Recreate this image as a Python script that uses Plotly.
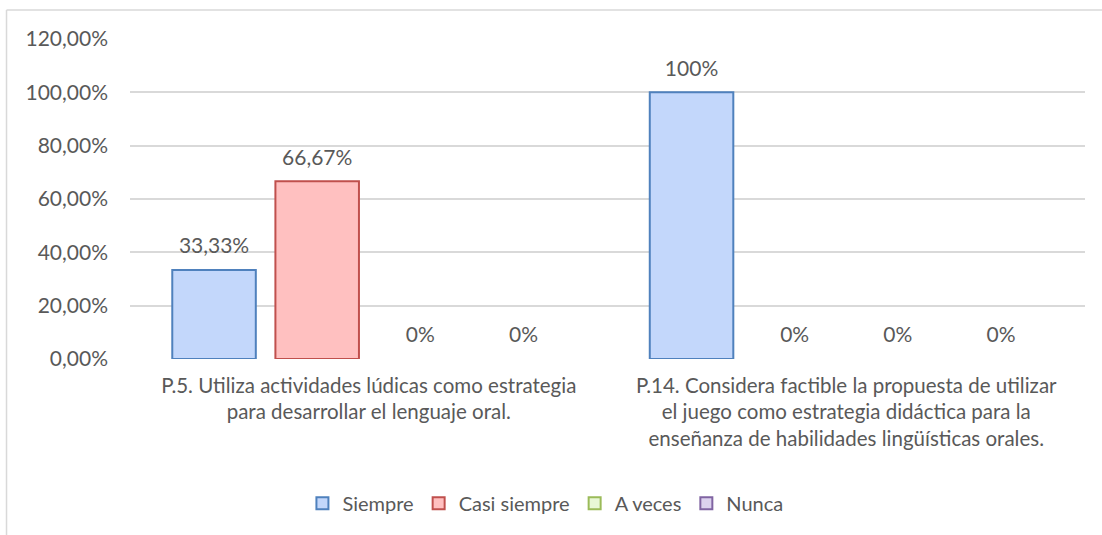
import plotly.graph_objects as go

categories = [
    "P.5. Utiliza actividades lúdicas como estrategia<br>para desarrollar el lenguaje oral.",
    "P.14. Considera factible la propuesta de utilizar<br>el juego como estrategia didáctica para la<br>enseñanza de habilidades lingüísticas orales.",
]
series_names = ["Siempre", "Casi siempre", "A veces", "Nunca"]
siempre = [0.3333, 1.0]
casi_siempre = [0.6667, 0.0]
a_veces = [0.0, 0.0]
nunca = [0.0, 0.0]
y_ticks = [0, 0.2, 0.4, 0.6, 0.8, 1.0, 1.2]

series_values = [siempre, casi_siempre, a_veces, nunca]
fills = ["#C3D7FB", "#FFC0C0", "#E8F7D6", "#DCD2EE"]
lines = ["#4F81BD", "#C0504D", "#9BBB59", "#8064A2"]

FONT = "Lato"
GREY = "#595959"
FS = 21


def label(v):
    s = f"{v * 100:.2f}".rstrip("0").rstrip(".")
    return s.replace(".", ",") + "%"


fig = go.Figure()
for i, (name, vals, fc, lc) in enumerate(zip(series_names, series_values, fills, lines)):
    # visible bars (zero-height bars drawn without outline)
    fig.add_trace(go.Bar(
        name=name,
        x=categories,
        y=vals,
        offsetgroup=str(i),
        legendgroup=name,
        showlegend=False,
        marker=dict(color=fc, line=dict(color=lc, width=[2 if v > 0 else 0 for v in vals])),
        text=[f'<span style="font-size:{FS}px">{label(v)}</span><br> ' for v in vals],
        textposition="outside",
        constraintext="none",
        cliponaxis=False,
        textfont=dict(family=FONT, size=9, color=GREY),
        hoverinfo="skip",
    ))
    # legend entry with outlined swatch
    fig.add_trace(go.Bar(
        name=name,
        x=[categories[0]],
        y=[None],
        offsetgroup=str(i),
        legendgroup=name,
        showlegend=True,
        legendrank=i + 1,
        marker=dict(color=fc, line=dict(color=lc, width=2)),
        hoverinfo="skip",
    ))

fig.update_layout(
    width=1102,
    height=535,
    barmode="group",
    bargap=0.136,
    bargroupgap=0.19,
    separators=",.",
    plot_bgcolor="white",
    paper_bgcolor="white",
    margin=dict(l=130, r=17, t=39, b=176),
    font=dict(family=FONT, size=FS, color=GREY),
    showlegend=True,
    legend=dict(
        orientation="h",
        x=0.435,
        xanchor="center",
        y=-0.39,
        yanchor="top",
        font=dict(family=FONT, size=20, color=GREY),
        traceorder="normal",
    ),
    xaxis=dict(
        showgrid=False,
        showline=False,
        zeroline=False,
        automargin=False,
        tickfont=dict(family=FONT, size=20.5, color=GREY),
        ticklabelstandoff=12,
    ),
    yaxis=dict(
        range=[0, 1.2],
        tickvals=y_ticks,
        tickformat=".2%",
        showgrid=True,
        gridcolor="#D9D9D9",
        gridwidth=1.5,
        zeroline=False,
        showline=False,
        automargin=False,
        tickfont=dict(family=FONT, size=FS, color=GREY),
        ticklabelstandoff=21,
    ),
    shapes=[
        dict(type="line", xref="paper", yref="paper",
             x0=-0.1293, x1=1.03, y0=1.0906, y1=1.0906,
             line=dict(color="#D9D9D9", width=1.5)),
        dict(type="line", xref="paper", yref="paper",
             x0=-0.1293, x1=-0.1293, y0=1.0906, y1=-0.6,
             line=dict(color="#D9D9D9", width=1.5)),
    ],
)

fig.write_html(
    "out.html",
    config={"displayModeBar": False},
    post_script="document.body.style.margin='0';",
)
